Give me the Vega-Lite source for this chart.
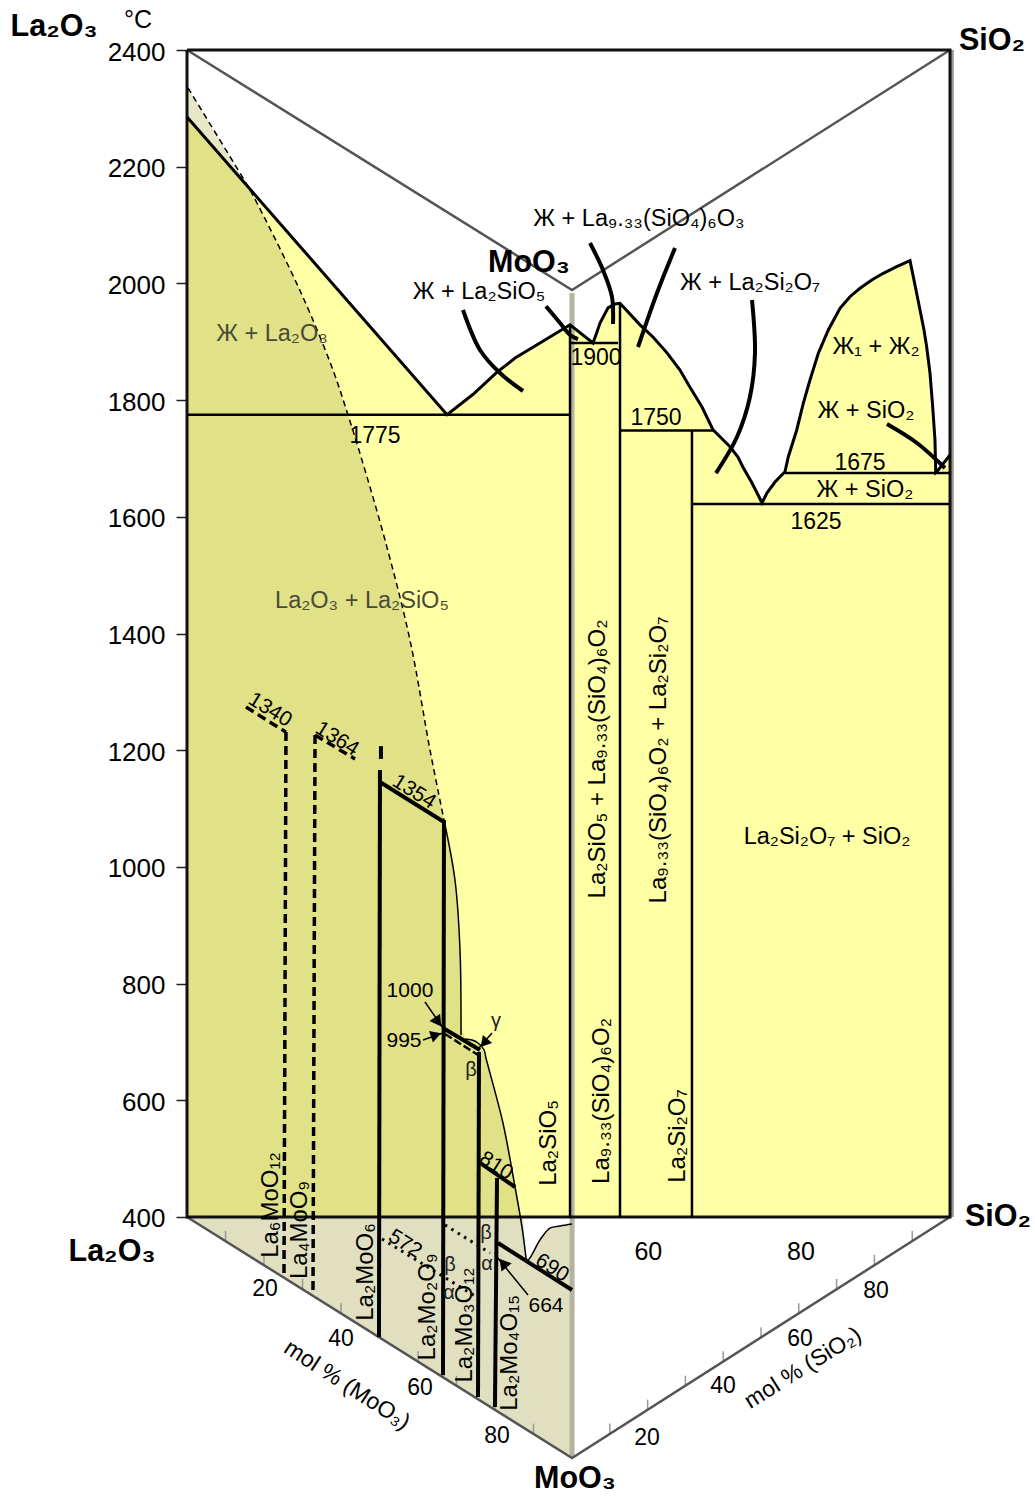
{
"$schema":"https://vega.github.io/schema/vega-lite/v6.json",
"width":1035,"height":1499,"padding":0,
"autosize":{"type":"fit","contains":"padding"},
"background":"white",
"config":{"view":{"stroke":null},"text":{"font":"Liberation Sans"}},
"datasets":{
"top":[{"x":0,"t":2285},{"x":34.08,"t":1775},{"x":37.5,"t":1810},{"x":40.63,"t":1848},{"x":43,"t":1872},{"x":46.26,"t":1898},{"x":50.2,"t":1929},{"x":53.21,"t":1898},{"x":53.73,"t":1916.7},{"x":54.13,"t":1932},{"x":55.18,"t":1958},{"x":56.09,"t":1964.7},{"x":56.75,"t":1966},{"x":59.37,"t":1929},{"x":61.07,"t":1908.2},{"x":62.91,"t":1881},{"x":64.61,"t":1851.6},{"x":65.92,"t":1822},{"x":67.5,"t":1788.2},{"x":68.94,"t":1749},{"x":71.17,"t":1720},{"x":72.21,"t":1702.5},{"x":72.87,"t":1685},{"x":74.05,"t":1658},{"x":75.36,"t":1624},{"x":76,"t":1640.8},{"x":77.06,"t":1659.6},{"x":78.37,"t":1677},{"x":78.81,"t":1703},{"x":79.91,"t":1748.8},{"x":80.77,"t":1794.5},{"x":81.65,"t":1834.5},{"x":82.74,"t":1880.2},{"x":84.05,"t":1920.1},{"x":85.58,"t":1957.3},{"x":86.89,"t":1977.2},{"x":88.2,"t":1991.6},{"x":89.74,"t":2005.8},{"x":91.25,"t":2017.3},{"x":93.01,"t":2028.6},{"x":94.76,"t":2038.9},{"x":95.41,"t":1997.3},{"x":96.07,"t":1954.4},{"x":96.59,"t":1920.1},{"x":96.94,"t":1891.5},{"x":97.38,"t":1845.9},{"x":97.73,"t":1788.7},{"x":98.03,"t":1731.6},{"x":98.13,"t":1676.3},{"x":98.43,"t":1680},{"x":100,"t":1706}],
"floor":[{"x":0,"t":400,"b":400},{"x":44.03,"t":400,"b":39.6},{"x":44.43,"t":329.7,"b":36.4},{"x":44.69,"t":326.3,"b":34.2},{"x":46.26,"t":360.6,"b":21.4},{"x":47.57,"t":381.1,"b":10.7},{"x":48.88,"t":384.6,"b":0},{"x":50.46,"t":388,"b":-13}],
"pale":[{"x":0.13,"t":2335},{"x":7.86,"t":2168}],
"olive":[{"x":0,"t":2285.2},{"x":7.86,"t":2166.9},{"x":8.26,"t":2160.1},{"x":13.1,"t":2035},{"x":16.11,"t":1949.3},{"x":19.13,"t":1851.6},{"x":21.1,"t":1774.5},{"x":22.93,"t":1697.3},{"x":25.95,"t":1560.3},{"x":29.22,"t":1388.9},{"x":31.85,"t":1200.3},{"x":33.68,"t":1080.4},{"x":35.12,"t":977.5},{"x":35.78,"t":857.6},{"x":35.91,"t":725.6},{"x":36.43,"t":706.8},{"x":38.14,"t":698.2},{"x":39.05,"t":677.7},{"x":41.41,"t":561.1},{"x":42.99,"t":451.4},{"x":43.64,"t":400}],
"dashcurve":[{"x":0.13,"t":2334.9},{"x":6.94,"t":2189.2},{"x":8.26,"t":2160.1},{"x":13.1,"t":2035},{"x":16.11,"t":1949.3},{"x":19.13,"t":1851.6},{"x":21.1,"t":1774.5},{"x":22.93,"t":1697.3},{"x":25.95,"t":1560.3},{"x":29.22,"t":1388.9},{"x":31.85,"t":1200.3},{"x":33.68,"t":1080.4}],
"thin":[
{"s":"a","i":1,"x":33.68,"t":1080.4},{"s":"a","i":2,"x":35.12,"t":977.5},{"s":"a","i":3,"x":35.78,"t":857.6},{"s":"a","i":4,"x":35.91,"t":711.9},
{"s":"b","i":1,"x":36.43,"t":705},{"s":"b","i":2,"x":37.35,"t":703.3},{"s":"b","i":3,"x":38.14,"t":698.2},{"s":"b","i":4,"x":38.93,"t":686.2},{"s":"b","i":5,"x":39.18,"t":672.5},{"s":"b","i":6,"x":41.41,"t":561.1},{"s":"b","i":7,"x":42.99,"t":451.4},{"s":"b","i":8,"x":43.9,"t":382.9},{"s":"b","i":9,"x":44.43,"t":329.7},
{"s":"c","i":1,"x":44.43,"t":329.7},{"s":"c","i":2,"x":44.69,"t":326.3},{"s":"c","i":3,"x":46.26,"t":360.6},{"s":"c","i":4,"x":47.57,"t":381.1},{"s":"c","i":5,"x":48.88,"t":384.6},{"s":"c","i":6,"x":50.46,"t":388},
{"s":"d","i":1,"x":31.19,"t":768.5},{"s":"d","i":2,"x":33.55,"t":723.9},
{"s":"e","i":1,"x":30.93,"t":703.4},{"s":"e","i":2,"x":33.55,"t":715.4},
{"s":"f","i":1,"x":39.97,"t":715.4},{"s":"f","i":2,"x":38.27,"t":689.7},
{"s":"g","i":1,"x":44.69,"t":266.3},{"s":"g","i":2,"x":40.63,"t":331.4}
],
"medium":[
{"s":"1","i":1,"x":0,"t":1775},{"s":"1","i":2,"x":50.2,"t":1775},
{"s":"2","i":1,"x":50.2,"t":1898},{"s":"2","i":2,"x":56.5,"t":1898},
{"s":"3","i":1,"x":56.75,"t":1748},{"s":"3","i":2,"x":69.07,"t":1748},
{"s":"4","i":1,"x":78.37,"t":1675},{"s":"4","i":2,"x":100,"t":1675},
{"s":"5","i":1,"x":66.18,"t":1622},{"s":"5","i":2,"x":100,"t":1622},
{"s":"6","i":1,"x":56.75,"t":1966},{"s":"6","i":2,"x":56.75,"t":400},
{"s":"7","i":1,"x":66.18,"t":1748},{"s":"7","i":2,"x":66.18,"t":400},
{"s":"8","i":1,"x":50.2,"t":1929},{"s":"8","i":2,"x":50.2,"t":400}
],
"thick":[
{"s":"a","i":1,"x":25.29,"t":1166},{"s":"a","i":2,"x":25.16,"t":194.3},
{"s":"b","i":1,"x":25.42,"t":1207},{"s":"b","i":2,"x":25.42,"t":1185},
{"s":"c","i":1,"x":25.29,"t":1145.5},{"s":"c","i":2,"x":33.68,"t":1077},
{"s":"d","i":1,"x":33.68,"t":1080.4},{"s":"d","i":2,"x":33.55,"t":129},
{"s":"e","i":1,"x":38.27,"t":682.8},{"s":"e","i":2,"x":38.14,"t":91.5},
{"s":"f","i":1,"x":40.63,"t":466.8},{"s":"f","i":2,"x":40.36,"t":74.4},
{"s":"g","i":1,"x":38.4,"t":492.6},{"s":"g","i":2,"x":42.99,"t":451.4},
{"s":"h","i":1,"x":40.76,"t":355.4},{"s":"h","i":2,"x":50.46,"t":274.9},
{"s":"j","i":1,"x":33.55,"t":723.9},{"s":"j","i":2,"x":38.4,"t":686.2},
{"s":"k","i":1,"x":36.17,"t":1954.4},{"s":"k","i":2,"x":38.4,"t":1885.9},{"s":"k","i":3,"x":41.02,"t":1846.4},{"s":"k","i":4,"x":44.04,"t":1815.6},
{"s":"l","i":1,"x":47.05,"t":1961},{"s":"l","i":2,"x":48.89,"t":1932},{"s":"l","i":3,"x":50.2,"t":1911.6},{"s":"l","i":4,"x":51.24,"t":1904.7},
{"s":"m","i":1,"x":52.82,"t":2069.2},{"s":"m","i":2,"x":54.52,"t":2023},{"s":"m","i":3,"x":55.7,"t":1976.7},{"s":"m","i":4,"x":55.83,"t":1930.4},
{"s":"n","i":1,"x":63.96,"t":2060.7},{"s":"n","i":2,"x":61.6,"t":1983.6},{"s":"n","i":3,"x":59.11,"t":1891},
{"s":"o","i":1,"x":74.05,"t":1971.6},{"s":"o","i":2,"x":74.44,"t":1880.7},{"s":"o","i":3,"x":73.78,"t":1805.3},{"s":"o","i":4,"x":72.08,"t":1736.8},{"s":"o","i":5,"x":69.33,"t":1675},
{"s":"p","i":1,"x":91.74,"t":1759},{"s":"p","i":2,"x":95.67,"t":1726.5},{"s":"p","i":3,"x":99.34,"t":1683.6}
],
"dashed":[
{"s":"a","i":1,"x":12.97,"t":1231},{"s":"a","i":2,"x":12.71,"t":298.9},
{"s":"b","i":1,"x":7.73,"t":1274},{"s":"b","i":2,"x":12.97,"t":1231},
{"s":"c","i":1,"x":16.78,"t":1226},{"s":"c","i":2,"x":16.51,"t":266.3},
{"s":"d","i":1,"x":16.78,"t":1226},{"s":"d","i":2,"x":22.02,"t":1185}
],
"dash995":[{"x":33.81,"t":713.6},{"x":38.14,"t":677.7}],
"dotted":[
{"s":"a","i":1,"x":25.56,"t":362.3},{"s":"a","i":2,"x":37.75,"t":264.6},
{"s":"b","i":1,"x":33.81,"t":386.3},{"s":"b","i":2,"x":39.71,"t":338.3}
],
"frame":[{"i":1,"x":0,"t":2400},{"i":2,"x":100,"t":2400},{"i":3,"x":100,"t":400},{"i":4,"x":0,"t":400},{"i":5,"x":0,"t":2400}],
"edges":[
{"s":"a","i":1,"x":0,"t":2400},{"s":"a","i":2,"x":50.46,"t":1988.7},{"s":"a","i":3,"x":100,"t":2400},
{"s":"b","i":1,"x":0,"t":400},{"s":"b","i":2,"x":50.46,"t":-13},{"s":"b","i":3,"x":100,"t":400}
],
"floorticks":[
{"x":5.05,"t":358.7,"u":376},{"x":10.09,"t":317.4,"u":335},{"x":15.14,"t":276.1,"u":294},{"x":20.18,"t":234.8,"u":252},{"x":25.23,"t":193.5,"u":211},{"x":30.28,"t":152.2,"u":170},{"x":35.32,"t":110.9,"u":128},{"x":40.37,"t":69.6,"u":87},{"x":45.41,"t":28.3,"u":46},
{"x":55.41,"t":28.3,"u":46},{"x":60.37,"t":69.6,"u":87},{"x":65.32,"t":110.9,"u":128},{"x":70.28,"t":152.2,"u":170},{"x":75.23,"t":193.5,"u":211},{"x":80.18,"t":234.8,"u":252},{"x":85.14,"t":276.1,"u":294},{"x":90.09,"t":317.4,"u":335},{"x":95.05,"t":358.7,"u":376}
],
"wallticks":[{"t":187.5},{"t":386.3},{"t":586.8},{"t":787.3},{"t":987.8},{"t":1186.6},{"t":1387},{"t":1587.7},{"t":1788}],
"bold":[
{"l":"La₂O₃","x":-17.43,"t":2439.4},{"l":"SiO₂","x":105.5,"t":2415.4},{"l":"La₂O₃","x":-9.83,"t":340},{"l":"SiO₂","x":106.29,"t":400},{"l":"MoO₃","x":44.82,"t":2035},{"l":"MoO₃","x":50.85,"t":-49}
],
"phases":[
{"l":"Ж + La₂SiO₅","x":38.27,"t":1985.3},
{"l":"Ж + La₉.₃₃(SiO₄)₆O₃","x":59.24,"t":2110.4},
{"l":"Ж + La₂Si₂O₇","x":73.79,"t":2000.7},
{"l":"Ж₁ + Ж₂","x":90.3,"t":1891},
{"l":"Ж + SiO₂","x":88.99,"t":1781.3},
{"l":"Ж + SiO₂","x":88.86,"t":1645.9},
{"l":"La₂Si₂O₇ + SiO₂","x":83.88,"t":1051.2}
],
"reg":[
{"l":"1775","x":24.64,"t":1738.5},
{"l":"1900","x":53.6,"t":1872.2},
{"l":"1750","x":61.47,"t":1769.3},
{"l":"1675","x":88.2,"t":1692.2},
{"l":"1625","x":82.44,"t":1591.1},
{"l":"20","x":10.22,"t":276.6},{"l":"40","x":20.18,"t":190.9},{"l":"60","x":30.53,"t":107},{"l":"80","x":40.63,"t":24.7},
{"l":"20","x":60.29,"t":21.2},{"l":"40","x":70.25,"t":110.4},{"l":"60","x":80.34,"t":190.9},{"l":"80","x":90.3,"t":273.2}
],
"small":[
{"l":"1000","x":29.22,"t":787.3},
{"l":"995","x":28.44,"t":701.6},
{"l":"664","x":47.05,"t":247.5}
],
"grey":[
{"l":"Ж + La₂O₃","x":11.14,"t":1913.3},
{"l":"La₂O₃ + La₂SiO₅","x":22.93,"t":1455.7}
],
"greek":[
{"l":"β","x":37.22,"t":651.9},{"l":"γ","x":40.5,"t":735.9},{"l":"β","x":39.19,"t":372.6},{"l":"α","x":39.32,"t":319.4},{"l":"β","x":34.47,"t":317.7},{"l":"α","x":34.34,"t":269.7}
],
"slant":[
{"l":"1340","x":10.88,"t":1268.9},{"l":"1364","x":19.66,"t":1219.2},{"l":"1354","x":29.75,"t":1128.4},{"l":"810","x":40.5,"t":487.4},{"l":"690","x":47.84,"t":312.6},{"l":"572","x":28.57,"t":353.7}
],
"vert":[
{"l":"La₂SiO₅","x":47.44,"t":526.8},
{"l":"La₉.₃₃(SiO₄)₆O₂","x":54.39,"t":598.8},
{"l":"La₂Si₂O₇","x":64.35,"t":538.8},
{"l":"La₂SiO₅ + La₉.₃₃(SiO₄)₆O₂","x":53.87,"t":1184.9},
{"l":"La₉.₃₃(SiO₄)₆O₂ + La₂Si₂O₇","x":61.86,"t":1183.2},
{"l":"La₆MoO₁₂","x":11.01,"t":420.6},
{"l":"La₄MoO₉","x":14.81,"t":377.7},
{"l":"La₂MoO₆","x":23.46,"t":305.8},
{"l":"La₂Mo₂O₉","x":31.6,"t":245.8},
{"l":"La₂Mo₃O₁₂","x":36.43,"t":214.9},
{"l":"La₂Mo₄O₁₅","x":42.33,"t":167}
]
},
"encoding":{
"x":{"field":"x","type":"quantitative","scale":{"domain":[-24.51,111.14],"nice":false,"zero":false},
"axis":{"orient":"bottom","offset":-282,"title":null,"domain":false,"grid":false,"values":[10,20,30,40,50,60,70,80,90],"labelExpr":"datum.value==60||datum.value==80?datum.label:''","tickSize":-10,"tickColor":"#333","tickWidth":1,"labelFontSize":25,"labelFont":"Liberation Sans","labelColor":"#000","labelPadding":32,"labelOffset":3,"labelFlush":false,"labelOverlap":false}},
"y":{"field":"t","type":"quantitative","scale":{"domain":[-83.3,2485.7],"nice":false,"zero":false},
"axis":{"orient":"left","offset":-187,"title":null,"domain":false,"grid":false,"format":"d","values":[400,600,800,1000,1200,1400,1600,1800,2000,2200,2400],"tickSize":11,"tickColor":"#222","tickWidth":1.5,"labelFontSize":26,"labelFont":"Liberation Sans","labelColor":"#000","labelPadding":11,"labelOffset":2,"labelFlush":false,"labelOverlap":false}}
},
"layer":[
{"data":{"name":"top"},"mark":{"type":"area","color":"#FFFFA6","interpolate":"linear"},"encoding":{"y2":{"datum":400}}},
{"data":{"name":"floor"},"mark":{"type":"area","color":"#E0E0C0"},"encoding":{"y2":{"field":"b"}}},
{"data":{"name":"pale"},"mark":{"type":"area","orient":"horizontal","color":"#E8E8C8"},"encoding":{"x2":{"datum":0}}},
{"data":{"name":"olive"},"mark":{"type":"area","orient":"horizontal","color":"#E1E187"},"encoding":{"x2":{"datum":0}}},
{"data":{"name":"wallticks"},"mark":{"type":"rule","color":"#999","strokeWidth":1.5},"encoding":{"x":{"datum":50.46},"x2":{"datum":49.6}}},
{"data":{"name":"floorticks"},"mark":{"type":"rule","color":"#999","strokeWidth":1.5},"encoding":{"y2":{"field":"u"}}},
{"data":{"values":[{"x":50.46,"t":1983.5},{"x":50.47,"t":-13}]},"mark":{"type":"line","color":"#B3B3A0","strokeWidth":5},"encoding":{"order":{"field":"x"}}},
{"data":{"values":[{"x":100.3,"t":2400},{"x":100.31,"t":400}]},"mark":{"type":"line","color":"#999","strokeWidth":3},"encoding":{"order":{"field":"x"}}},
{"data":{"name":"edges"},"mark":{"type":"line","color":"#555","strokeWidth":2.5},"encoding":{"detail":{"field":"s"},"order":{"field":"i"}}},
{"data":{"name":"frame"},"mark":{"type":"line","color":"#111","strokeWidth":3},"encoding":{"order":{"field":"i"}}},
{"data":{"name":"dashcurve"},"mark":{"type":"line","color":"#000","strokeWidth":1.5,"strokeDash":[6,4],"interpolate":"catmull-rom"},"encoding":{"order":{"field":"x"}}},
{"data":{"name":"thin"},"mark":{"type":"line","color":"#000","strokeWidth":1.5,"interpolate":"catmull-rom"},"encoding":{"detail":{"field":"s"},"order":{"field":"i"}}},
{"data":{"name":"top"},"mark":{"type":"line","color":"#000","strokeWidth":3}},
{"data":{"name":"medium"},"mark":{"type":"line","color":"#000","strokeWidth":2.5},"encoding":{"detail":{"field":"s"},"order":{"field":"i"}}},
{"data":{"name":"thick"},"mark":{"type":"line","color":"#000","strokeWidth":4,"interpolate":"catmull-rom"},"encoding":{"detail":{"field":"s"},"order":{"field":"i"}}},
{"data":{"name":"dashed"},"mark":{"type":"line","color":"#000","strokeWidth":3.5,"strokeDash":[9,5]},"encoding":{"detail":{"field":"s"},"order":{"field":"i"}}},
{"data":{"name":"dash995"},"mark":{"type":"line","color":"#000","strokeWidth":2.5,"strokeDash":[8,3]}},
{"data":{"name":"dotted"},"mark":{"type":"line","color":"#000","strokeWidth":3,"strokeDash":[2.5,5]},"encoding":{"detail":{"field":"s"},"order":{"field":"i"}}},
{"data":{"values":[{"x":32.9,"t":734.2}]},"mark":{"type":"point","shape":"triangle-up","filled":true,"color":"#000","opacity":1,"size":170,"angle":145}},
{"data":{"values":[{"x":32.63,"t":712}]},"mark":{"type":"point","shape":"triangle-up","filled":true,"color":"#000","opacity":1,"size":150,"angle":71}},
{"data":{"values":[{"x":38.93,"t":698.2}]},"mark":{"type":"point","shape":"triangle-up","filled":true,"color":"#000","opacity":1,"size":150,"angle":221}},
{"data":{"values":[{"x":41.42,"t":321.1}]},"mark":{"type":"point","shape":"triangle-up","filled":true,"color":"#000","opacity":1,"size":170,"angle":321}},
{"data":{"name":"bold"},"mark":{"type":"text","fontSize":30.5,"fontWeight":"bold","color":"#000","align":"center","baseline":"middle"},"encoding":{"text":{"field":"l"}}},
{"data":{"name":"phases"},"mark":{"type":"text","fontSize":23.5,"color":"#000","align":"center","baseline":"middle"},"encoding":{"text":{"field":"l"}}},
{"data":{"name":"reg"},"mark":{"type":"text","fontSize":23,"color":"#000","align":"center","baseline":"middle"},"encoding":{"text":{"field":"l"}}},
{"data":{"name":"small"},"mark":{"type":"text","fontSize":21,"color":"#000","align":"center","baseline":"middle"},"encoding":{"text":{"field":"l"}}},
{"data":{"values":[{"l":"°C","x":-6.42,"t":2451.4}]},"mark":{"type":"text","fontSize":25,"color":"#000","align":"center","baseline":"middle"},"encoding":{"text":{"field":"l"}}},
{"data":{"name":"grey"},"mark":{"type":"text","fontSize":23.5,"color":"#4a4a38","align":"center","baseline":"middle"},"encoding":{"text":{"field":"l"}}},
{"data":{"name":"greek"},"mark":{"type":"text","fontSize":20,"color":"#222","align":"center","baseline":"middle"},"encoding":{"text":{"field":"l"}}},
{"data":{"name":"slant"},"mark":{"type":"text","fontSize":21,"color":"#000","align":"center","baseline":"middle","angle":32},"encoding":{"text":{"field":"l"}}},
{"data":{"name":"vert"},"mark":{"type":"text","fontSize":24,"color":"#000","align":"center","baseline":"middle","angle":270},"encoding":{"text":{"field":"l"}}},
{"data":{"values":[{"l":"mol % (MoO₃)","x":20.97,"t":112}]},"mark":{"type":"text","fontSize":23,"color":"#000","align":"center","baseline":"middle","angle":33},"encoding":{"text":{"field":"l"}}},
{"data":{"values":[{"l":"mol % (SiO₂)","x":80.73,"t":141.2}]},"mark":{"type":"text","fontSize":23,"color":"#000","align":"center","baseline":"middle","angle":328},"encoding":{"text":{"field":"l"}}}
]
}
